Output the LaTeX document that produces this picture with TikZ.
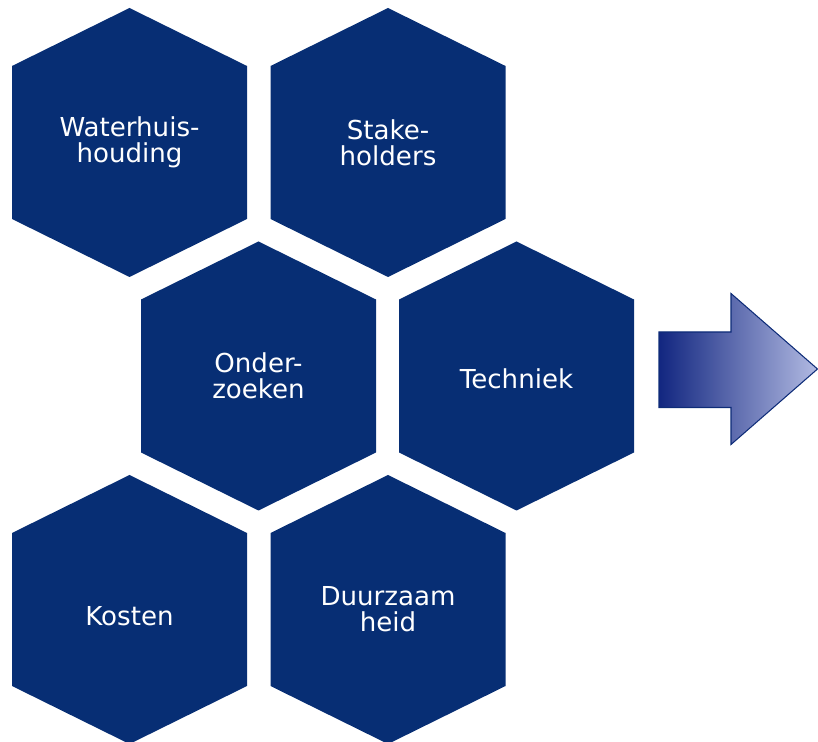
\documentclass[tikz,border=0pt]{standalone}
\usepackage{fontspec}
\setmainfont{DejaVu Sans}
\usepackage{xcolor}
\definecolor{hexblue}{RGB}{7,46,116}
\definecolor{arrowdark}{RGB}{18,38,128}
\definecolor{arrowlight}{RGB}{178,186,226}
\definecolor{arrowline}{RGB}{14,44,120}
\tikzset{
  hexlabel/.style={text=white, align=center, font=\fontsize{14.85}{14.8}\selectfont},
  hexfill/.style={fill=hexblue, draw=none}
}

\begin{document}
\begin{tikzpicture}[x=0.02cm, y=-0.02cm]
		\useasboundingbox (0,0) rectangle (818,742);
		% hexagons
		\foreach \cx/\cy/\dy/\name/\txt in {129.5/142.5/0/water/{Waterhuis-\\houding}, 388/142.5/0/stake/{Stake-\\holders},
			258.5/376/0/onder/{Onder-\\zoeken}, 516.5/376/3/tech/Techniek,
			129.5/609.5/7/kost/Kosten, 388/609.5/0/duur/{Duurzaam\\heid}}{
			\fill[hexfill] (\cx,\cy) ++(0,-134.5) -- ++(117.5,58) -- ++(0,153) -- ++(-117.5,58) -- ++(-117.5,-58) -- ++(0,-153) -- cycle;
			\node[hexlabel] (\name) at (\cx,\cy+\dy) {\txt};
		}
		%
		% arrow
		\shade[left color=arrowdark, right color=arrowlight, draw=arrowline, line width=0.6pt]
			(659,332) -- (731,332) -- (731,293.5) -- (817.5,369) -- (731,444.5) -- (731,407.5) -- (659,407.5) -- cycle;
	\end{tikzpicture}
\end{document}
